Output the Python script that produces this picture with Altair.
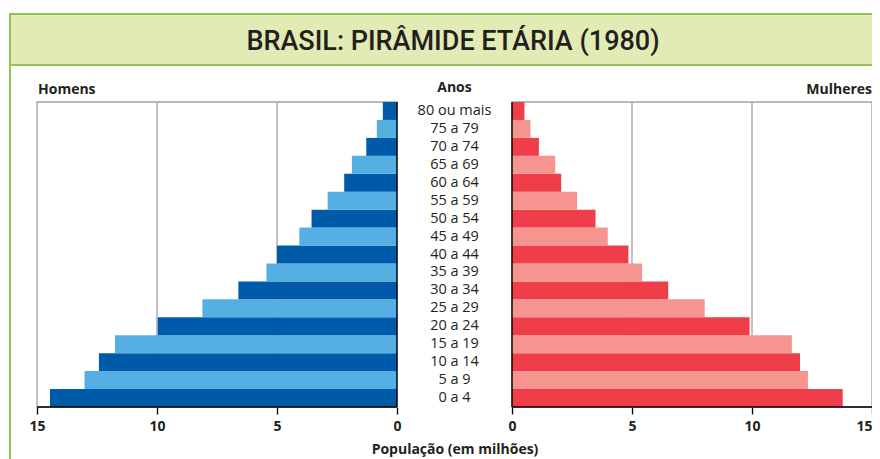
import altair as alt
import pandas as pd

# ---- data (in millions) ----
ages = ["0 a 4", "5 a 9", "10 a 14", "15 a 19", "20 a 24", "25 a 29", "30 a 34",
        "35 a 39", "40 a 44", "45 a 49", "50 a 54", "55 a 59", "60 a 64",
        "65 a 69", "70 a 74", "75 a 79", "80 ou mais"]
men = [14.46, 13.02, 12.42, 11.75, 9.97, 8.11, 6.61, 5.44, 5.00, 4.07, 3.56,
       2.89, 2.20, 1.88, 1.28, 0.84, 0.59]
women = [13.78, 12.33, 12.00, 11.66, 9.90, 8.03, 6.51, 5.42, 4.85, 3.99, 3.48,
         2.71, 2.05, 1.80, 1.12, 0.77, 0.52]
ticks = [0, 5, 10, 15]
grid_vals = [5, 10]

# ---- layout constants ----
W, H = 835, 305
G = 2.396          # half of the central gap, in data units
XMAX = 15
FONT = "Open Sans"
DARK = "#231f20"

order_top_down = ages[::-1]

rows = []
for i, a in enumerate(ages):
    shade = "dark" if i % 2 == 0 else "light"
    rows.append({"age": a, "sex": "Homens", "value": men[i], "x0": -G, "x1": -G - men[i],
                 "key": "H-" + shade})
    rows.append({"age": a, "sex": "Mulheres", "value": women[i], "x0": G, "x1": G + women[i],
                 "key": "M-" + shade})
df = pd.DataFrame(rows)

xscale = alt.Scale(domain=[-G - XMAX, G + XMAX], nice=False, zero=False)
yscale = alt.Scale(domain=order_top_down, paddingInner=0, paddingOuter=0)

tick_positions = [-G - t for t in ticks[::-1]] + [G + t for t in ticks]

one = pd.DataFrame({"t": [""]})

# frame and header band
frame = alt.Chart(one).mark_rect(fillOpacity=0, stroke="#8dc653", strokeWidth=2).encode(
    x=alt.value(-27), x2=alt.value(900), y=alt.value(-88), y2=alt.value(420))
header = alt.Chart(one).mark_rect(fill="#e2ebb3", stroke="#8dc653", strokeWidth=2).encode(
    x=alt.value(-27), x2=alt.value(900), y=alt.value(-88), y2=alt.value(-37))
title = alt.Chart(pd.DataFrame({"t": ["BRASIL: PIRÂMIDE ETÁRIA (1980)"]})).mark_text(
    font="Liberation Sans Narrow, Roboto, sans-serif", fontSize=27, fontWeight=500,
    color=DARK, align="center", baseline="middle").encode(
    text="t:N", x=alt.value(416), y=alt.value(-60))

# panel borders (grey) and grid lines
panels = pd.DataFrame({"a": [-G - XMAX, G], "b": [-G, G + XMAX]})
panel_rect = alt.Chart(panels).mark_rect(fillOpacity=0, stroke="#a3a3a3", strokeWidth=1.3).encode(
    x=alt.X("a:Q", scale=xscale), x2="b:Q", y=alt.value(0), y2=alt.value(H))
grid_df = pd.DataFrame({"g": [-G - v for v in grid_vals] + [G + v for v in grid_vals]})
grid = alt.Chart(grid_df).mark_rule(color="#a3a3a3", strokeWidth=1.3).encode(
    x=alt.X("g:Q", scale=xscale), y=alt.value(0), y2=alt.value(H))

# bars
bars = alt.Chart(df).mark_bar().encode(
    x=alt.X("x0:Q", scale=xscale,
            axis=alt.Axis(values=tick_positions,
                          labelExpr=f"round(abs(datum.value) - {G})",
                          labelAlign=alt.ConditionalAxisLabelAlign(
                              condition={"test": f"datum.value > {G + XMAX - 0.5}", "value": "right"},
                              value="center"),
                          labelOffset=alt.ConditionalAxisNumber(
                              condition={"test": f"datum.value > {G + XMAX - 0.5}", "value": 0},
                              value=0),
                          grid=False, domain=False, ticks=True, tickSize=7,
                          tickColor="#000000", tickWidth=1.3,
                          labelFont=FONT, labelFontSize=14, labelFontWeight="bold",
                          labelColor=DARK, labelPadding=5, labelFlush=False,
                          title="População (em milhões)", titleFont=FONT,
                          titleFontSize=14, titleFontWeight="bold", titleColor=DARK,
                          titlePadding=9)),
    x2="x1:Q",
    y=alt.Y("age:N", scale=yscale, axis=None),
    color=alt.Color("key:N", legend=None,
                    scale=alt.Scale(domain=["H-dark", "H-light", "M-dark", "M-light"],
                                    range=["#005aaa", "#56afe3", "#ef3d4a", "#f6948f"])),
)

# black axis lines
axis_df = pd.DataFrame({"a": [-G - XMAX, G], "b": [-G, G + XMAX]})
base_lines = alt.Chart(axis_df).mark_rule(color="#000000", strokeWidth=1.4).encode(
    x=alt.X("a:Q", scale=xscale), x2="b:Q", y=alt.value(H))
zero_df = pd.DataFrame({"z": [-G, G]})
zero_lines = alt.Chart(zero_df).mark_rule(color="#000000", strokeWidth=1.4).encode(
    x=alt.X("z:Q", scale=xscale), y=alt.value(0), y2=alt.value(H))

# age labels
age_df = pd.DataFrame({"age": ages})
age_labels = alt.Chart(age_df).mark_text(font=FONT, fontSize=14.5, fontWeight=500, color=DARK,
                                         align="center", baseline="middle").encode(
    text="age:N", y=alt.Y("age:N", scale=yscale, axis=None), x=alt.value(417.5))

homens = alt.Chart(pd.DataFrame({"t": ["Homens"]})).mark_text(
    font=FONT, fontSize=14, fontWeight="bold", color=DARK, align="left", baseline="middle").encode(
    text="t:N", x=alt.value(1), y=alt.value(-12))
mulheres = alt.Chart(pd.DataFrame({"t": ["Mulheres"]})).mark_text(
    font=FONT, fontSize=14, fontWeight="bold", color=DARK, align="right", baseline="middle").encode(
    text="t:N", x=alt.value(W), y=alt.value(-12))
anos = alt.Chart(pd.DataFrame({"t": ["Anos"]})).mark_text(
    font=FONT, fontSize=14, fontWeight="bold", color=DARK, align="center", baseline="middle").encode(
    text="t:N", x=alt.value(417.5), y=alt.value(-14))

chart = alt.layer(
    frame, header, title, panel_rect, grid, bars, base_lines, zero_lines,
    age_labels, homens, mulheres, anos
).properties(
    width=W, height=H,
    autosize=alt.AutoSizeParams(type="none"),
    padding={"left": 29, "top": 94, "right": 0, "bottom": 52},
    background="#ffffff",
).configure_view(stroke=None)

chart.save("out.html", embed_options={"renderer": "svg", "actions": False})
